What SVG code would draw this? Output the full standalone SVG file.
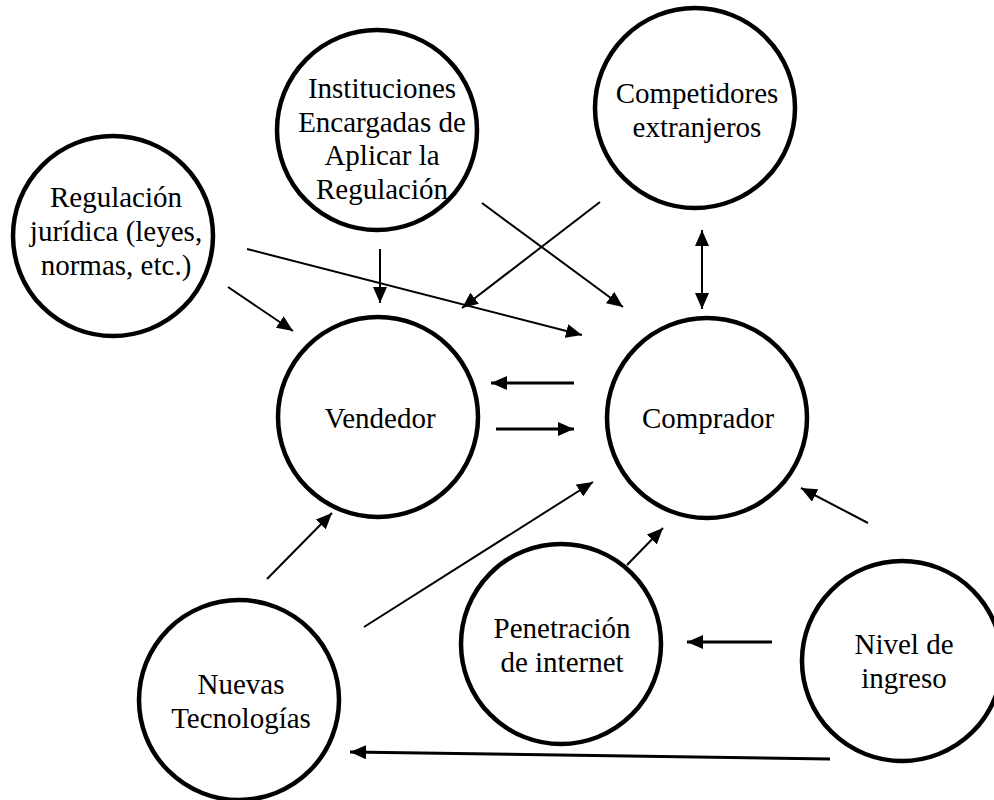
<svg xmlns="http://www.w3.org/2000/svg" width="994" height="800" viewBox="0 0 994 800">
<style>
.node circle{fill:#fff;stroke:#000;stroke-width:4.5}
.node text{font-family:"Liberation Serif","Times New Roman",serif;font-size:29px;fill:#000;text-anchor:middle}
.edges line{stroke:#000;stroke-width:2;marker-end:url(#ah)}
.edges line.thick{stroke-width:3}
</style>
<defs>
<marker id="ah" markerUnits="userSpaceOnUse" markerWidth="16" markerHeight="14" refX="16" refY="7" orient="auto-start-reverse">
<path d="M0,0 L16,7 L0,14 z" fill="#000"/>
</marker>
</defs>
<rect width="994" height="800" fill="#fff"/>
<g id="instituciones" class="node">
<circle cx="377" cy="130" r="100"/>
<text x="382" y="98">Instituciones</text>
<text x="382" y="132">Encargadas de</text>
<text x="382" y="165">Aplicar la</text>
<text x="382" y="199">Regulación</text>
</g>
<g id="regulacion" class="node">
<circle cx="113" cy="236" r="100"/>
<text x="116" y="207">Regulación</text>
<text x="116" y="241">jurídica (leyes,</text>
<text x="116" y="275">normas, etc.)</text>
</g>
<g id="competidores" class="node">
<circle cx="695" cy="108" r="100"/>
<text x="697" y="103">Competidores</text>
<text x="697" y="137">extranjeros</text>
</g>
<g id="vendedor" class="node">
<circle cx="378" cy="417" r="100"/>
<text x="380" y="428">Vendedor</text>
</g>
<g id="comprador" class="node">
<circle cx="707" cy="418" r="100"/>
<text x="708" y="428">Comprador</text>
</g>
<g id="nuevas" class="node">
<circle cx="239" cy="700" r="100"/>
<text x="241" y="694">Nuevas</text>
<text x="241" y="728">Tecnologías</text>
</g>
<g id="penetracion" class="node">
<circle cx="561" cy="644" r="100"/>
<text x="562" y="638">Penetración</text>
<text x="562" y="672">de internet</text>
</g>
<g id="nivel" class="node">
<circle cx="902" cy="661" r="100"/>
<text x="904" y="654">Nivel de</text>
<text x="904" y="688">ingreso</text>
</g>
<g id="connectors" class="edges">
<line x1="228" y1="287" x2="293" y2="331"/>
<line x1="247" y1="249" x2="582" y2="335"/>
<line x1="380" y1="249" x2="380" y2="303"/>
<line x1="482" y1="203" x2="623" y2="307"/>
<line x1="600" y1="202" x2="462" y2="308"/>
<line x1="702" y1="230" x2="702" y2="309" marker-start="url(#ah)"/>
<line class="thick" x1="574" y1="383" x2="491" y2="383"/>
<line class="thick" x1="496" y1="429" x2="574" y2="429"/>
<line x1="267" y1="579" x2="332" y2="513"/>
<line x1="364" y1="627" x2="593" y2="482"/>
<line x1="627" y1="565" x2="663" y2="528"/>
<line x1="868" y1="523" x2="801" y2="488"/>
<line class="thick" x1="772" y1="642" x2="687" y2="642"/>
<line class="thick" x1="830" y1="759" x2="350" y2="752"/>
</g>
</svg>
